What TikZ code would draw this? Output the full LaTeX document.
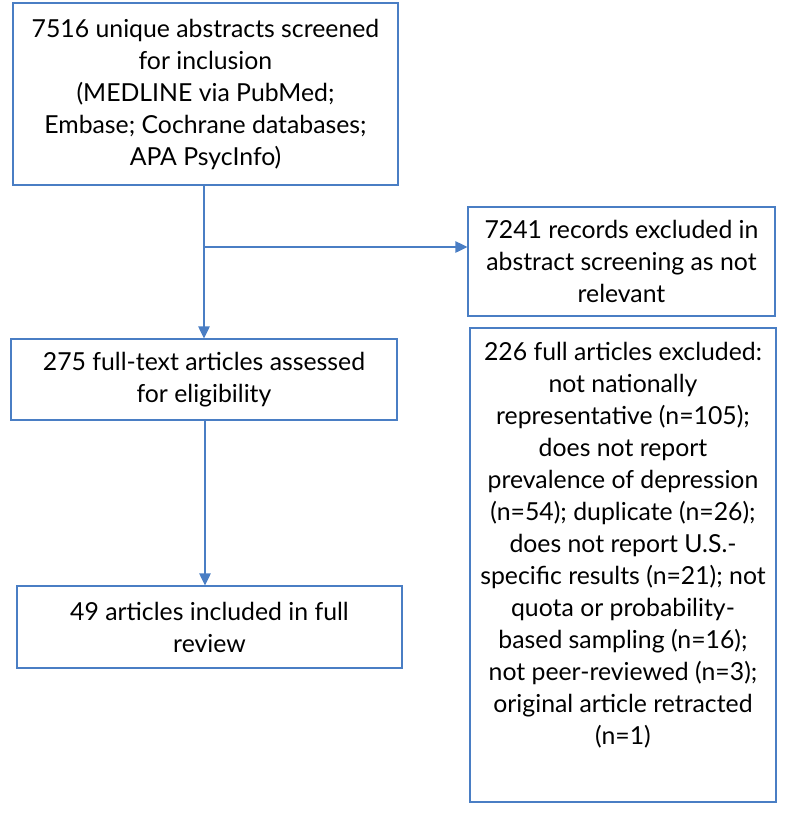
\documentclass[tikz,border=0pt]{standalone}
\usepackage{fontspec}
\setmainfont{Lato}
\usetikzlibrary{arrows.meta}
\definecolor{flowblue}{RGB}{74,126,196}

\begin{document}
\begin{tikzpicture}[x=0.75pt, y=-0.75pt]
\tikzset{
    box/.style={draw=flowblue, line width=0.8pt, inner sep=0pt, align=center,
        font=\fontsize{18.6}{24}\selectfont},
    flow/.style={draw=flowblue, line width=1.1pt, -{Triangle[length=9pt, width=8.5pt]}}
}
    \useasboundingbox (0,0) rectangle (790,815);

    % left column
    \node[box, minimum width=288.75pt, minimum height=136.5pt] (screened) at (205.5,94)
        {7516 unique abstracts screened\\for inclusion\\(MEDLINE via PubMed;\\Embase; Cochrane databases;\\APA PsycInfo)};
    \node[box, minimum width=289.5pt, minimum height=60.75pt] (assessed) at (204,379.5)
        {275 full-text articles assessed\\for eligibility};
    \node[box, minimum width=288.75pt, minimum height=61.5pt] (included) at (209.5,627)
        {49 articles included in full\\review};

    % right column
    \node[box, minimum width=230.25pt, minimum height=81.75pt] (excluded) at (621.5,261.5)
        {7241 records excluded in\\abstract screening as not\\relevant};
    \node[box, minimum width=229.5pt, minimum height=355.5pt] (fullexcluded) at (623,565)
        {\parbox[c][334.5pt][t]{229pt}{\centering
        226 full articles excluded:\\not nationally\\representative (n=105);\\does not report\\prevalence of depression\\(n=54); duplicate (n=26);\\does not report U.S.-\\specific results (n=21); not\\quota or probability-\\based sampling (n=16);\\not peer-reviewed (n=3);\\original article retracted\\(n=1)}};

    % connectors
    \coordinate (branch) at (204,247);
    \draw[flow] (screened.south -| branch) -- (assessed.north -| branch);
    \draw[flow] (branch) -- (branch -| excluded.west);
    \draw[flow] (assessed.south -| 205,0) -- (included.north -| 205,0);
\end{tikzpicture}
\end{document}
